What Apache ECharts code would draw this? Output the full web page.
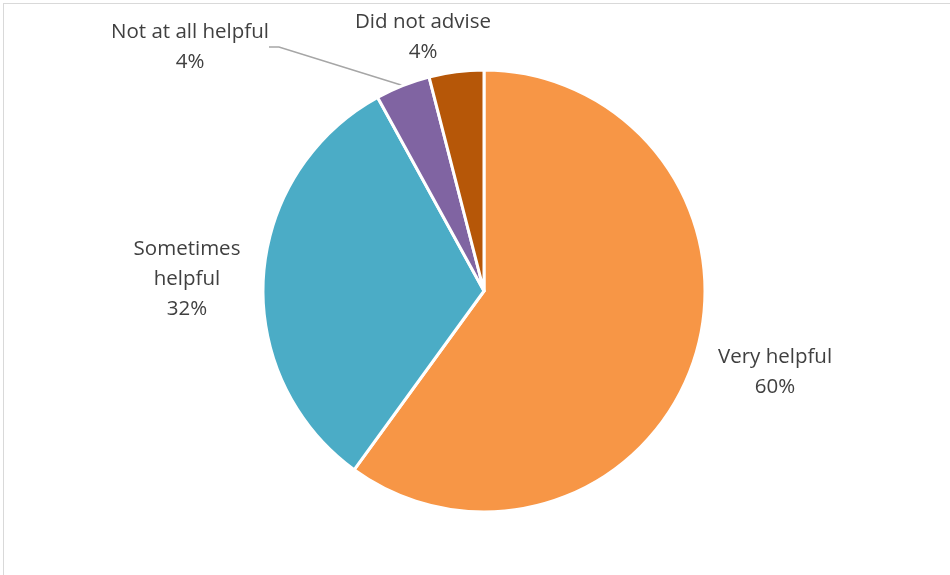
<!DOCTYPE html>
<html>
<head>
<meta charset="utf-8">
<script src="https://cdn.jsdelivr.net/npm/echarts@6/dist/echarts.min.js"></script>
<style>
html,body{margin:0;padding:0;background:#fff;}
#wrap{position:absolute;left:0;top:0;width:950px;height:575px;}
#frame{position:absolute;left:3px;top:3px;width:960px;height:590px;border-left:1px solid #d9d9d9;border-top:1px solid #d9d9d9;pointer-events:none;}
#chart{position:absolute;left:0;top:0;width:950px;height:575px;}
</style>
</head>
<body>
<div id="wrap"><div id="chart"></div><div id="frame"></div></div>
<script>
const categories = ['Very helpful', 'Sometimes helpful', 'Not at all helpful', 'Did not advise'];
const values = [60, 32, 4, 4];
const colors = ['#F79646', '#4BACC6', '#8064A2', '#B65708'];
const showLine = [false, false, true, false];
// label anchor spots (centre of the text block), in pixels
const labelSpots = [[775, 372], [187, 279], [190, 47], [423, 37]];

const chart = echarts.init(document.getElementById('chart'), null, {renderer: 'canvas'});
const data = categories.map((c, i) => ({
  name: c,
  value: values[i],
  itemStyle: {color: colors[i]},
  labelLine: {show: showLine[i]}
}));
chart.setOption({
  animation: false,
  series: [{
    type: 'pie',
    center: [484, 291],
    radius: 221,
    startAngle: 90,
    clockwise: true,
    data: data,
    itemStyle: {borderColor: '#ffffff', borderWidth: 3},
    label: {
      show: true,
      position: 'outside',
      color: '#404040',
      fontFamily: 'Open Sans',
      fontSize: 20.5,
      lineHeight: 30,
      align: 'center',
      formatter: function (p) {
        const n = p.name === 'Sometimes helpful' ? 'Sometimes\nhelpful' : p.name;
        return n + '\n' + Math.round(p.percent) + '%';
      }
    },
    labelLine: {lineStyle: {color: '#a6a6a6', width: 1.5}, length: 15, length2: 10, smooth: false},
    labelLayout: function (params) {
      const s = labelSpots[params.dataIndex];
      return {x: s[0], y: s[1], align: 'center', verticalAlign: 'middle', hideOverlap: false};
    }
  }]
});
</script>
</body>
</html>
